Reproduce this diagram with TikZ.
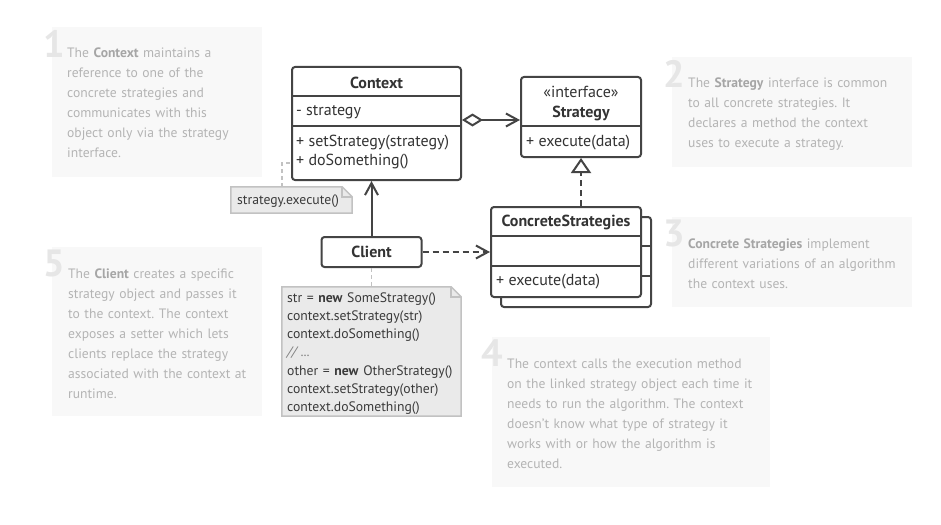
\documentclass[tikz,border=0pt]{standalone}
\usepackage{fontspec}
\setmainfont{PT Sans}
\usetikzlibrary{arrows.meta,calc}
\frenchspacing
\definecolor{uml}{HTML}{444444}
\definecolor{umltxt}{HTML}{333333}
\definecolor{descbg}{HTML}{F8F8F8}
\definecolor{desctext}{HTML}{B4B4B4}
\definecolor{descbold}{HTML}{A6A6A6}
\definecolor{numcol}{HTML}{E6E6E6}
\definecolor{notefill}{HTML}{EAEAEA}
\definecolor{noteline}{HTML}{C2C2C2}
\definecolor{notetext}{HTML}{3A3A3A}
\tikzset{Vtip/.tip={Straight Barb[length=12pt,width=13pt,line width=2pt]}}
\begin{document}
\begin{tikzpicture}[x=1pt,y=-1pt,
  umlbox/.style={draw=uml, line width=2pt, fill=white, rounded corners=3pt, inner sep=0pt, rectangle},
  sepline/.style={draw=uml, line width=2pt},
  umltext/.style={font=\fontsize{16}{19}\selectfont, text=umltxt, inner sep=0pt},
  umlname/.style={umltext, font=\fontsize{16}{19}\selectfont\bfseries},
  umlitem/.style={umltext, anchor=west},
  conn/.style={draw=uml, line width=2pt},
  dashconn/.style={conn, dash pattern=on 6pt off 4pt},
  descbox/.style={fill=descbg, inner sep=0pt, rectangle},
  desc/.style={font=\fontsize{13.6}{20}\selectfont, text=desctext, align=left, text width=290pt, inner sep=0pt, anchor=base west},
  num/.style={font=\fontsize{38}{38}\selectfont\bfseries, text=numcol, inner sep=0pt, anchor=base west},
  notebox/.style={inner sep=0pt, rectangle},
  noteedge/.style={draw=noteline, line width=1.5pt, fill=notefill, line join=miter},
  notetxt/.style={font=\fontsize{13.7}{18.3}\selectfont, text=notetext, align=left, text width=200pt, inner sep=0pt, anchor=base west},
  notelink/.style={draw=noteline, line width=1.5pt, dash pattern=on 4pt off 3pt},
]
\fill[white] (0,0) rectangle (941,524);
\useasboundingbox (0,0) rectangle (941,524);

% ---------- description boxes ----------
\node[descbox, minimum width=210pt, minimum height=150pt] (d1) at (157,102) {};
\node[num] (n1) at (43,58) {1};
\node[desc] (t1) at (67,58) {The \textcolor{descbold}{\textbf{Context}} maintains a\\reference to one of the\\concrete strategies and\\communicates with this\\object only via the strategy\\interface.};

\node[descbox, minimum width=240pt, minimum height=110pt] (d2) at (792,112) {};
\node[num] (n2) at (663,88) {2};
\node[desc] (t2) at (688,88) {The \textcolor{descbold}{\textbf{Strategy}} interface is common\\to all concrete strategies. It\\declares a method the context\\uses to execute a strategy.};

\node[descbox, minimum width=240pt, minimum height=90pt] (d3) at (792,262) {};
\node[num] (n3) at (663,246) {3};
\node[desc] (t3) at (688,248) {\textcolor{descbold}{\textbf{Concrete Strategies}} implement\\different variations of an algorithm\\the context uses.};

\node[descbox, minimum width=278pt, minimum height=150pt] (d4) at (631,412) {};
\node[num] (n4) at (481,366) {4};
\node[desc] (t4) at (507,368) {The context calls the execution method\\on the linked strategy object each time it\\needs to run the algorithm. The context\\doesn’t know what type of strategy it\\works with or how the algorithm is\\executed.};

\node[descbox, minimum width=210pt, minimum height=169pt] (d5) at (157,331.5) {};
\node[num] (n5) at (43,276) {5};
\node[desc] (t5) at (68,278) {The \textcolor{descbold}{\textbf{Client}} creates a specific\\strategy object and passes it\\to the context. The context\\exposes a setter which lets\\clients replace the strategy\\associated with the context at\\runtime.};

% ---------- Context ----------
\node[umlbox, minimum width=169pt, minimum height=113pt] (ctx) at (376.5,123.5) {};
\draw[sepline] ($(ctx.north west)+(0,30)$) -- ($(ctx.north east)+(0,30)$);
\draw[sepline] ($(ctx.north west)+(0,60)$) -- ($(ctx.north east)+(0,60)$);
\node[umlname] (ctxname) at (376.5,82.5) {Context};
\node[umlitem] (ctxattr) at (296,112.5) {- strategy};
\node[umlitem] (ctxm1) at (296,142.5) {+ setStrategy(strategy)};
\node[umlitem] (ctxm2) at (296,162) {+ doSomething()};

% ---------- Strategy ----------
\node[umlbox, minimum width=120pt, minimum height=80pt] (strat) at (581,117) {};
\draw[sepline] ($(strat.north west)+(0,50)$) -- ($(strat.north east)+(0,50)$);
\node[umltext] (stratster) at (581,92) {«interface»};
\node[umlname] (stratname) at (581,113.5) {Strategy};
\node[umlitem] (stratm) at (526,142.5) {+ execute(data)};

% ---------- ConcreteStrategies ----------
\node[umlbox, minimum width=150pt, minimum height=90pt] (csback) at (576,262) {};
\draw[sepline] ($(csback.north west)+(0,30)$) -- ($(csback.north east)+(0,30)$);
\draw[sepline] ($(csback.north west)+(0,60)$) -- ($(csback.north east)+(0,60)$);
\node[umlbox, minimum width=150pt, minimum height=90pt] (cs) at (566,252) {};
\draw[sepline] ($(cs.north west)+(0,30)$) -- ($(cs.north east)+(0,30)$);
\draw[sepline] ($(cs.north west)+(0,60)$) -- ($(cs.north east)+(0,60)$);
\node[umlname] (csname) at (566,222) {ConcreteStrategies};
\node[umlitem] (csm) at (496,282) {+ execute(data)};

% ---------- Client ----------
\node[umlbox, minimum width=100pt, minimum height=30pt] (client) at (371.5,252) {};
\node[umlname] (clientname) at (371.5,252) {Client};

% ---------- notes ----------
\node[notebox, minimum width=121pt, minimum height=26pt] (note1) at (291.5,200) {};
\draw[noteedge] (note1.north west) -- ($(note1.north east)+(-10,0)$) -- ($(note1.north east)+(0,10)$) -- (note1.south east) -- (note1.south west) -- cycle;
\draw[noteedge, fill=none] ($(note1.north east)+(-10,0)$) |- ($(note1.north east)+(0,10)$);
\node[notetxt] (note1txt) at (237,204.5) {strategy.execute()};

\node[notebox, minimum width=179pt, minimum height=129pt] (note2) at (371.5,351.5) {};
\draw[noteedge] (note2.north west) -- ($(note2.north east)+(-10,0)$) -- ($(note2.north east)+(0,10)$) -- (note2.south east) -- (note2.south west) -- cycle;
\draw[noteedge, fill=none] ($(note2.north east)+(-10,0)$) |- ($(note2.north east)+(0,10)$);
\node[notetxt] (note2txt) at (287,302) {str = \textbf{new} SomeStrategy()\\context.setStrategy(str)\\context.doSomething()\\\textcolor{gray}{\textit{// ...}}\\other = \textbf{new} OtherStrategy()\\context.setStrategy(other)\\context.doSomething()};

% ---------- connectors ----------
\coordinate (ctxlink) at ($(ctx.south west)+(0,-18)$);
\draw[notelink] ($(note1.north west)+(51,0)$) |- (ctxlink);
\draw[notelink] (client.south) -- (client.south |- note2.north);

\coordinate (aggA) at ($(ctx.north east)+(0,54)$);
\coordinate (aggB) at ($(strat.north west)+(0,44)$);
\draw[conn, {Diamond[open,length=21pt,width=13pt,fill=white,line width=2pt]}-{Vtip}] (aggA) -- (aggB);

\draw[dashconn, -{Triangle[open,length=15pt,width=20pt,fill=white,line width=2pt]}] (strat.south |- cs.north) -- (strat.south);

\draw[conn, -{Vtip}] (client.north) -- (client.north |- ctx.south);
\draw[dashconn, -{Vtip}] (client.east) -- (cs.west);
\end{tikzpicture}
\end{document}
